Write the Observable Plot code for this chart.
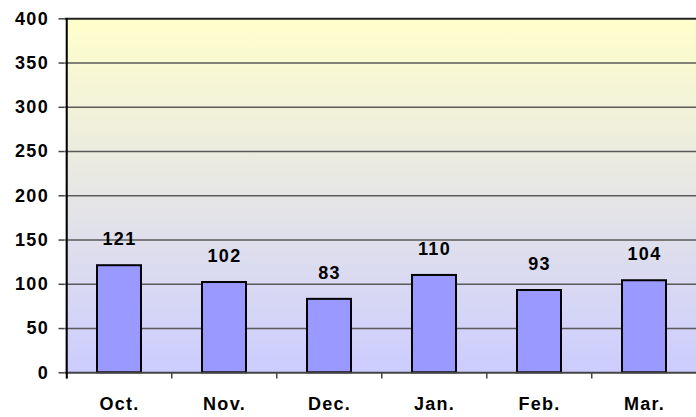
<!DOCTYPE html>
<html><head><meta charset="utf-8">
<script src="https://cdn.jsdelivr.net/npm/d3@7"></script>
<script src="https://cdn.jsdelivr.net/npm/@observablehq/plot@0.6"></script>
<style>
html,body{margin:0;padding:0;background:#fff;}
svg{display:block;}
#chart svg text{font-family:'Liberation Sans', Arial, sans-serif;font-weight:bold;font-size:18px;letter-spacing:1.3px;}
</style>
</head><body><div id="chart"></div>
<script>
const months = ["Oct.", "Nov.", "Dec.", "Jan.", "Feb.", "Mar."];
const values = [121, 102, 83, 110, 93, 104];
const yTicks = [0, 50, 100, 150, 200, 250, 300, 350, 400];
const gridTicks = [50, 100, 150, 200, 250, 300, 350];

const data = months.map((m, i) => ({month: m, value: values[i]}));

const xRange = [64.5, 697.5];
const step = (xRange[1] - xRange[0]) / months.length;

const gradient = () => {
  const defs = d3.create("svg:defs");
  const lg = defs.append("linearGradient").attr("id", "bgGrad")
    .attr("x1", 0).attr("y1", 0).attr("x2", 0).attr("y2", 1);
  lg.append("stop").attr("offset", "0%").attr("stop-color", "#FFFFCC");
  lg.append("stop").attr("offset", "100%").attr("stop-color", "#CCCCFF");
  return defs.node();
};

const chart = Plot.plot({
  width: 696,
  height: 417,
  marginLeft: 64.5,
  marginRight: 0,
  marginTop: 18.3,
  marginBottom: 44.7,
  style: {color: "#000", background: "#fff"},
  x: {domain: months, range: xRange, paddingInner: 0.583, paddingOuter: 0.2915, label: null},
  y: {domain: [0, 400], label: null},
  marks: [
    gradient,
    Plot.frame({fill: "url(#bgGrad)", stroke: "none"}),
    Plot.ruleY(gridTicks, {stroke: "#5a5a5a", strokeWidth: 1.5}),
    Plot.ruleY([400], {stroke: "#222", strokeWidth: 2}),
    Plot.barY(data, {x: "month", y: "value", fill: "#9999FF", stroke: "#000", strokeWidth: 2}),
    Plot.ruleY([0], {stroke: "#444", strokeWidth: 2}),
    Plot.ruleX(months, {x: d => d, y1: 0, y2: -7, dx: -step / 2, stroke: "#444", strokeWidth: 1.5}),
    Plot.ruleX([months[0]], {x: d => d, y1: -7, y2: 400, dx: -step / 2, stroke: "#000", strokeWidth: 2}),
    Plot.axisY(yTicks, {tickSize: 6, tickPadding: 10, stroke: "#444", strokeWidth: 1.5}),
    Plot.axisX(months, {tickSize: 0, tickPadding: 24}),
    Plot.text(data, {x: "month", y: "value", text: d => String(d.value), dy: -26.5,
      lineAnchor: "middle", fill: "#000"})
  ]
});
document.getElementById("chart").appendChild(chart);
</script>
</body></html>
